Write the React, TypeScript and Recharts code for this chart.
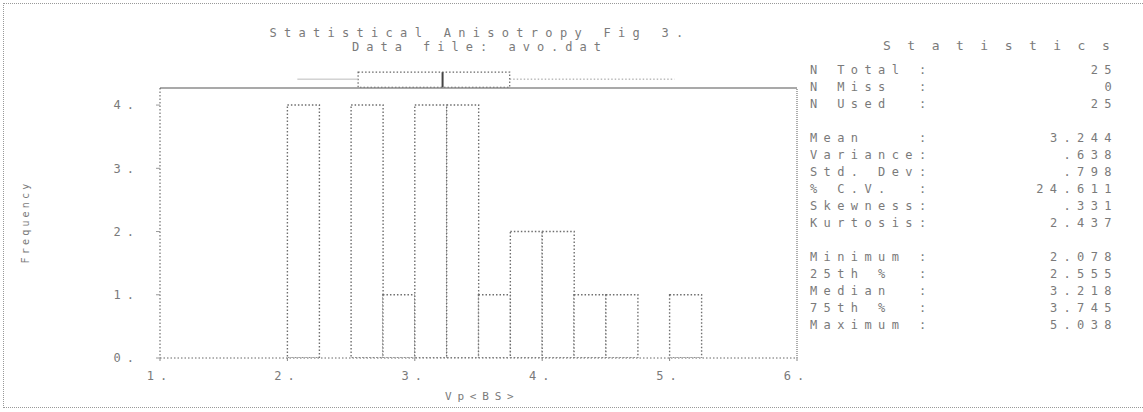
import React from 'react';
import {
  ComposedChart,
  Bar,
  XAxis,
  YAxis,
  ReferenceLine,
  ReferenceArea,
} from 'recharts';

// histogram bins (lower edge) and counts
const binWidth = 0.25;
const binStarts = [1.0, 1.25, 1.5, 1.75, 2.0, 2.25, 2.5, 2.75, 3.0, 3.25, 3.5, 3.75, 4.0, 4.25, 4.5, 4.75, 5.0, 5.25, 5.5, 5.75];
const counts = [0, 0, 0, 0, 4, 0, 4, 1, 4, 4, 1, 2, 2, 1, 1, 0, 1, 0, 0, 0];

const xTicks = [1, 2, 3, 4, 5, 6];
const yTicks = [0, 1, 2, 3, 4];

// box plot summary shown above the histogram
const boxMin = 2.078;
const boxQ1 = 2.555;
const boxMedian = 3.218;
const boxQ3 = 3.745;
const boxMax = 5.038;

// statistics panel, '' = blank line
const statLabels = [
  'N Total :', 'N Miss  :', 'N Used  :', '',
  'Mean    :', 'Variance:', 'Std. Dev:', '% C.V.  :', 'Skewness:', 'Kurtosis:', '',
  'Minimum :', '25th %  :', 'Median  :', '75th %  :', 'Maximum :',
];
const statValues = [
  '25', '0', '25', '',
  '3.244', '.638', '.798', '24.611', '.331', '2.437', '',
  '2.078', '2.555', '3.218', '3.745', '5.038',
];

const data = binStarts.map((b, i) => ({ mid: b + binWidth / 2, count: counts[i] }));

const FONT = '"DejaVu Sans Mono", monospace';
const INK = '#7a7a7a';
const Y_TOP = 4.27;

const tickStyle = { fill: INK, fontFamily: FONT, fontSize: 12, letterSpacing: 6 };

export default function App() {
  return (
    <div style={{ position: 'absolute', left: 0, top: 0, width: 1143, height: 412, background: '#fff', overflow: 'hidden' }}>
      {/* outer dotted frame */}
      <div
        style={{
          position: 'absolute', left: 3, top: 3, width: 1145, height: 403,
          borderTop: '1px dotted #999', borderLeft: '1px dotted #999', borderBottom: '1px dotted #999',
        }}
      />

      <ComposedChart
        width={1143}
        height={412}
        data={data}
        margin={{ top: 88, right: 346, bottom: 24, left: 0 }}
        barCategoryGap={0}
        barGap={0}
        style={{ position: 'absolute', left: 0, top: 0 }}
      >
        <XAxis
          dataKey="mid"
          type="number"
          domain={[1, 6]}
          allowDataOverflow
          ticks={xTicks}
          tickFormatter={(v) => `${v}.`}
          tick={tickStyle}
          tickSize={3}
          tickMargin={10}
          axisLine={{ stroke: '#666', strokeDasharray: '1.5 2' }}
          tickLine={{ stroke: '#888' }}
          height={30}
        />
        <YAxis
          type="number"
          domain={[0, Y_TOP]}
          allowDataOverflow
          ticks={yTicks}
          tickFormatter={(v) => `${v}.`}
          tick={tickStyle}
          tickSize={4}
          tickMargin={16}
          axisLine={{ stroke: '#555', strokeDasharray: '1.5 2' }}
          tickLine={{ stroke: '#999' }}
          width={160}
        />

        {/* plot frame top and right */}
        <ReferenceLine y={Y_TOP} stroke="#8c8c8c" strokeWidth={1.5} />
        <ReferenceLine x={6} stroke="#777" strokeWidth={1.2} strokeDasharray="1 1" />

        <Bar
          dataKey="count"
          fill="#fff"
          stroke="#6e6e6e"
          strokeWidth={1.4}
          strokeDasharray="1.5 2"
          isAnimationActive={false}
        />

        {/* box plot above the frame */}
        <ReferenceLine
          segment={[{ x: boxMin, y: 4.41 }, { x: boxQ1, y: 4.41 }]}
          stroke="#bbb"
          strokeWidth={1}
          ifOverflow="visible"
        />
        <ReferenceLine
          segment={[{ x: boxQ3, y: 4.41 }, { x: boxMax, y: 4.41 }]}
          stroke="#999"
          strokeDasharray="1.5 2"
          ifOverflow="visible"
        />
        <ReferenceArea
          x1={boxQ1}
          x2={boxQ3}
          y1={4.28}
          y2={4.52}
          fill="none"
          fillOpacity={0}
          stroke="#666"
          strokeWidth={1.2}
          strokeDasharray="1.5 2"
          ifOverflow="visible"
        />
        <ReferenceLine
          segment={[{ x: boxMedian, y: 4.28 }, { x: boxMedian, y: 4.52 }]}
          stroke="#444"
          strokeWidth={2}
          ifOverflow="visible"
        />
      </ComposedChart>

      {/* title */}
      <div style={{ position: 'absolute', left: 0, width: 960, top: 26, textAlign: 'center', fontFamily: FONT, fontSize: 12, lineHeight: '14px', letterSpacing: 7.3, color: INK, whiteSpace: 'pre' }}>
        Statistical Anisotropy Fig 3.
      </div>
      <div style={{ position: 'absolute', left: 0, width: 960, top: 40, textAlign: 'center', fontFamily: FONT, fontSize: 12, lineHeight: '14px', letterSpacing: 7.0, color: INK, whiteSpace: 'pre' }}>
        Data file: avo.dat
      </div>

      {/* y axis title */}
      <div
        style={{
          position: 'absolute', left: 25, top: 222, transform: 'translate(-50%, -50%) rotate(-90deg)',
          fontFamily: FONT, fontSize: 10, letterSpacing: 3.2, color: INK, whiteSpace: 'pre',
        }}
      >
        Frequency
      </div>

      {/* x axis title */}
      <div style={{ position: 'absolute', left: 445, top: 390, fontFamily: FONT, fontSize: 11, lineHeight: '14px', letterSpacing: 5.8, color: INK, whiteSpace: 'pre' }}>
        {'Vp<BS>'}
      </div>

      {/* statistics panel */}
      <div style={{ position: 'absolute', left: 883, top: 38, fontFamily: FONT, fontSize: 13, lineHeight: '16px', letterSpacing: 16.5, color: INK, whiteSpace: 'pre' }}>
        Statistics
      </div>
      {statLabels.map((label, i) =>
        label ? (
          <div key={i} style={{ position: 'absolute', left: 810, top: 62 + i * 17, width: 308, height: 17, fontFamily: FONT, fontSize: 12, lineHeight: '17px', color: INK, whiteSpace: 'pre' }}>
            <span style={{ position: 'absolute', left: 0, letterSpacing: 6.4 }}>{label}</span>
            <span style={{ position: 'absolute', right: 0, letterSpacing: 6.4 }}>{statValues[i]}</span>
          </div>
        ) : null
      )}
    </div>
  );
}
